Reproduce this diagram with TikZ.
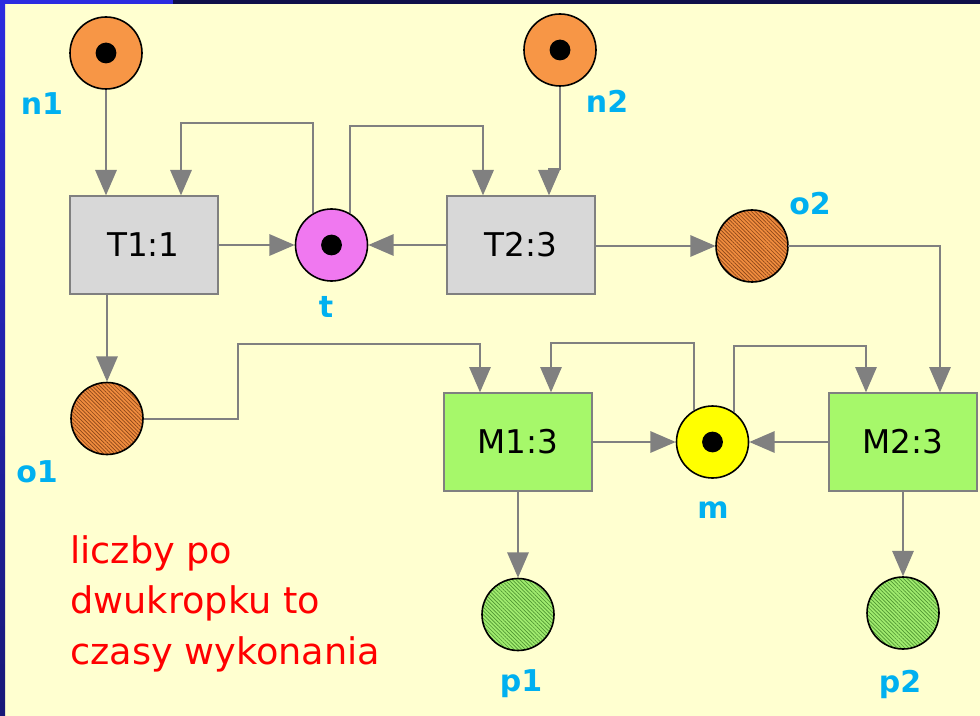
\documentclass[tikz,border=0pt]{standalone}
\usepackage{fontspec}
\setmainfont{DejaVu Sans}
\usetikzlibrary{arrows.meta, calc, patterns.meta}
\definecolor{bgyellow}{RGB}{255,255,208}
\definecolor{slideblue}{RGB}{43,43,224}
\definecolor{slidenavy}{RGB}{16,16,74}
\definecolor{placeorange}{RGB}{247,150,70}
\definecolor{placepink}{RGB}{240,120,240}
\definecolor{placeyellow}{RGB}{255,255,0}
\definecolor{outbrown}{RGB}{240,140,62}
\definecolor{hatchbrown}{RGB}{140,70,25}
\definecolor{outgreen}{RGB}{160,235,110}
\definecolor{hatchgreen}{RGB}{80,150,50}
\definecolor{transgray}{RGB}{216,216,216}
\definecolor{machgreen}{RGB}{166,248,106}
\definecolor{linegray}{RGB}{128,128,128}
\definecolor{labelcyan}{RGB}{0,176,240}
\tikzset{
  place/.style={
    circle,
    draw=black,
    line width=1.2pt,
    minimum size=54pt,
    inner sep=0pt
  },
  marked/.style={path picture={\fill[black] (path picture bounding box.center) circle (7.8pt);}},
  startplace/.style={place, marked, fill=placeorange},
  hatchout/.style={place, preaction={fill=outbrown},
    pattern={Lines[angle=-45, distance=2pt, line width=0.5pt]}, pattern color=hatchbrown},
  hatchdone/.style={place, preaction={fill=outgreen},
    pattern={Lines[angle=-45, distance=2pt, line width=0.5pt]}, pattern color=hatchgreen},
  trans/.style={
    draw=linegray,
    line width=1.5pt,
    minimum width=111pt,
    minimum height=73pt,
    inner sep=0pt,
    font=\fontsize{24.5}{28}\selectfont
  },
  task/.style={trans, fill=transgray},
  machine/.style={trans, fill=machgreen},
  arrow/.style={-{Triangle[length=19pt, width=16pt]}, line width=1.5pt, draw=linegray},
  placelabel/.style={font=\fontsize{22.5}{26}\selectfont\bfseries, text=labelcyan, anchor=base, inner sep=0pt}
}

\begin{document}
\begin{tikzpicture}[x=0.75pt, y=-0.75pt]
  % slide background
  \useasboundingbox (0,0) rectangle (980,716);
  \fill[bgyellow] (0,0) rectangle (980,716);
  \fill[slidenavy] (173,0) rectangle (980,4);
  \fill[slideblue] (0,0) rectangle (173,4);
  \shade[top color=slideblue, bottom color=slidenavy!70!slideblue] (0,0) rectangle (5,716);

  % places and transitions
  \node[startplace] (n1) at (106,53) {};
  \node[startplace] (n2) at (560,50) {};
  \node[task] (T1) at (143.5,245) {T1:1};
  \node[place, marked, fill=placepink] (t) at (331.5,245) {};
  \node[task] (T2) at (521,245) {T2:3};
  \node[hatchout] (o2) at (752,246) {};
  \node[hatchout] (o1) at (107,418.5) {};
  \node[machine] (M1) at (517.5,442) {M1:3};
  \node[place, marked, fill=placeyellow] (m) at (712.5,442) {};
  \node[machine] (M2) at (903,442) {M2:3};
  \node[hatchdone] (p1) at (518,614.5) {};
  \node[hatchdone] (p2) at (903,613) {};

  % labels
  \node[placelabel] (n1lab) at (42,115) {n1};
  \node[placelabel] (n2lab) at (607,113) {n2};
  \node[placelabel] (tlab) at (326,317) {t};
  \node[placelabel] (o2lab) at (810,215) {o2};
  \node[placelabel] (o1lab) at (37,482) {o1};
  \node[placelabel] (mlab) at (713,518) {m};
  \node[placelabel] (p1lab) at (521,691) {p1};
  \node[placelabel] (p2lab) at (900,692) {p2};

  \node[anchor=north west, align=left, inner sep=0pt, text=red,
    font=\fontsize{27.5}{38}\selectfont] (note) at (70,535) {liczby po\\dwukropku to\\czasy wykonania};

  % connectors
  \draw[arrow] (n1) -- ($(T1.north)+(-37.5,0)$);
  \draw[arrow] (t.120) -- ++(0,-90) -| ($(T1.north)+(37.5,0)$);
  \draw[arrow] (t.60) -- ++(0,-87) -| ($(T2.north)+(-38,0)$);
  \draw[arrow] (n2.south) -- ++(0,82) -| ($(T2.north)+(28,0)$);
  \draw[arrow] (T1) -- (t);
  \draw[arrow] (T2) -- (t);
  \draw[arrow] (T2.east |- o2) -- (o2);
  \draw[arrow] (o2.east) -| ($(M2.north)+(37,0)$);
  \draw[arrow] (T1.south -| o1) -- (o1.north);
  \draw[arrow] (o1.east) -- ++(94,0) |- ($(M1.north)+(-37.5,-48)$) -- ($(M1.north)+(-37.5,0)$);
  \draw[arrow] (m.120) -- ++(0,-67) -| ($(M1.north)+(33.5,0)$);
  \draw[arrow] (m.55) -- ++(0,-65.5) -| ($(M2.north)+(-37,0)$);
  \draw[arrow] (M1) -- (m);
  \draw[arrow] (M2) -- (m);
  \draw[arrow] (M1.south -| p1) -- (p1);
  \draw[arrow] (M2) -- (p2);
\end{tikzpicture}
\end{document}
